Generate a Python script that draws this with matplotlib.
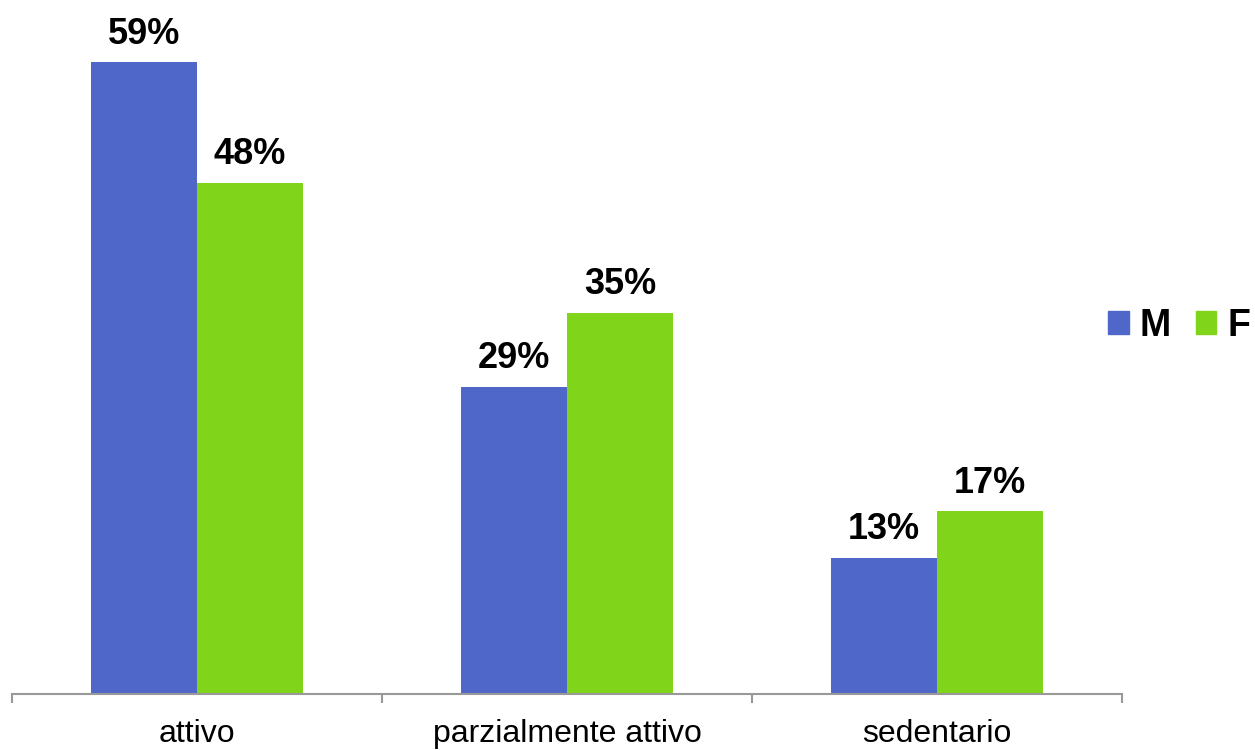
import matplotlib
matplotlib.use("Agg")
import matplotlib.pyplot as plt
import numpy as np
from matplotlib.patches import Patch

categories = ["attivo", "parzialmente attivo", "sedentario"]
series_names = ["M", "F"]
m_values = [58.8, 28.6, 12.7]
f_values = [47.6, 35.45, 17.0]

BLUE = "#4F67C8"
GREEN = "#80D41A"
GRAY = "#999999"

plt.rcParams["font.family"] = ["Liberation Sans", "DejaVu Sans"]

fig = plt.figure(figsize=(12.55, 7.5), dpi=100)
ax = fig.add_axes([12 / 1255, 56 / 750, 1110 / 1255, 694 / 750])

x = np.arange(len(categories))
width = 0.2865
bars_m = ax.bar(x - width / 2, m_values, width, color=BLUE, label=series_names[0])
bars_f = ax.bar(x + width / 2, f_values, width, color=GREEN, label=series_names[1])

# value labels above bars
for bars, vals in [(bars_m, m_values), (bars_f, f_values)]:
    for b, v in zip(bars, vals):
        ax.annotate(f"{v:.0f}%", (b.get_x() + b.get_width() / 2, v),
                    xytext=(0, 13.5), textcoords="offset points",
                    ha="center", va="baseline", fontsize=26, fontweight="bold")

ax.set_xlim(-0.5, len(categories) - 0.5)
ax.set_ylim(0, 64.6)

for side in ["top", "right", "left"]:
    ax.spines[side].set_visible(False)
ax.spines["bottom"].set_color(GRAY)
ax.spines["bottom"].set_linewidth(1.5)
ax.set_yticks([])

ax.set_xticks(x)
ax.set_xticklabels(categories, fontsize=23)
ax.tick_params(axis="x", which="major", length=0, pad=18)
ax.set_xticks(np.arange(-0.5, len(categories)), minor=True)
ax.tick_params(axis="x", which="minor", length=6.5, width=1.5, color=GRAY)

handles = [Patch(color=BLUE), Patch(color=GREEN)]
fig.legend(handles, series_names, loc="center left",
           bbox_to_anchor=(1108 / 1255, 1 - 326 / 750), ncol=2, frameon=False,
           borderpad=0, borderaxespad=0, handlelength=0.55, handleheight=0.55,
           handletextpad=0.3, columnspacing=0.65,
           prop={"size": 27, "weight": "bold"})

fig.savefig("out.png", dpi=100)
